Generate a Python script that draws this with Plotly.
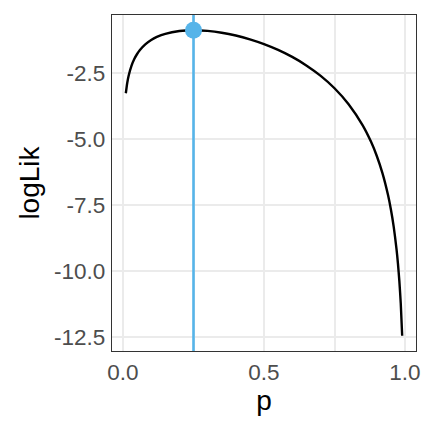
import plotly.graph_objects as go

# Binomial log-likelihood curve values
p_vals = [0.01, 0.015, 0.02, 0.03, 0.04, 0.05, 0.06, 0.08, 0.10, 0.12, 0.15, 0.20,
          0.25, 0.30, 0.35, 0.40, 0.45, 0.50, 0.55, 0.60, 0.65, 0.70, 0.75, 0.80,
          0.85, 0.88, 0.90, 0.92, 0.94, 0.95, 0.96, 0.97, 0.975, 0.98, 0.985, 0.99]
loglik_vals = [-3.249, -2.859, -2.586, -2.212, -1.955, -1.763, -1.613, -1.390, -1.232,
               -1.117, -0.998, -0.893, -0.863, -0.888, -0.956, -1.062, -1.206, -1.386,
               -1.607, -1.873, -2.194, -2.582, -3.060, -3.665, -4.468, -5.102, -5.627,
               -6.274, -7.116, -7.652, -8.311, -9.164, -9.706, -10.370, -11.228, -12.439]

mle_p = [0.25]
mle_loglik = [-0.863]

x_tickvals = [0.0, 0.25, 0.5, 0.75, 1.0]
x_ticktext = ["0.0", "", "0.5", "", "1.0"]
y_tickvals = [-2.5, -5.0, -7.5, -10.0, -12.5]
y_ticktext = ["-2.5", "-5.0", "-7.5", "-10.0", "-12.5"]

blue = "#56B4E9"

fig = go.Figure()
fig.add_trace(go.Scatter(x=p_vals, y=loglik_vals, mode="lines",
                         line=dict(color="black", width=2.4, shape="spline", smoothing=0.6),
                         showlegend=False, hoverinfo="skip"))
fig.add_vline(x=mle_p[0], line=dict(color=blue, width=2.6), layer="above")
fig.add_trace(go.Scatter(x=mle_p, y=mle_loglik, mode="markers",
                         marker=dict(color=blue, size=17, line=dict(width=0)),
                         showlegend=False, hoverinfo="skip"))

axis_common = dict(
    showgrid=True, gridcolor="#EBEBEB", gridwidth=2,
    zeroline=False, showline=True, linecolor="#333333", linewidth=1.2, mirror=True,
    ticks="outside", ticklen=1, tickcolor="rgba(0,0,0,0)",
    tickfont=dict(family="Liberation Sans, Arial, sans-serif", size=22.5, color="#4D4D4D"),
    title_font=dict(family="Liberation Sans, Arial, sans-serif", size=28, color="black"),
)

fig.update_layout(
    width=432, height=432,
    margin=dict(l=112, r=16, t=15, b=81),
    plot_bgcolor="white", paper_bgcolor="white",
    xaxis=dict(range=[-0.039, 1.039], tickvals=x_tickvals, ticktext=x_ticktext,
               title=dict(text="p", standoff=4), **axis_common),
    yaxis=dict(range=[-13.017, -0.285], tickvals=y_tickvals, ticktext=y_ticktext,
               title=dict(text="logLik", standoff=6), **axis_common),
)

fig.write_html("out.html")
